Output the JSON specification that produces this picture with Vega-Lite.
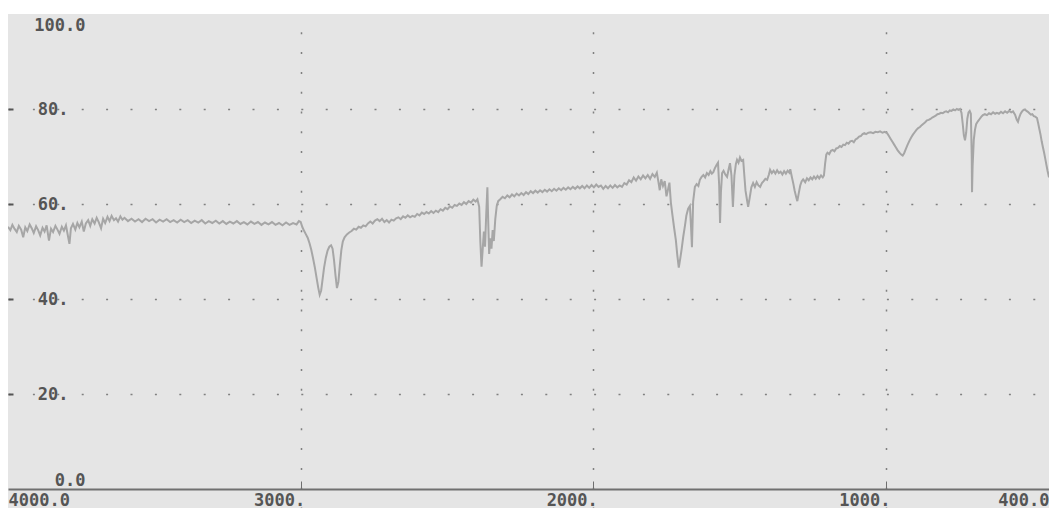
{
  "$schema": "https://vega.github.io/schema/vega-lite/v6.json",
  "width": 1041,
  "height": 494,
  "autosize": {"type": "none"},
  "padding": {"left": 8, "top": 14, "right": 0, "bottom": 0},
  "background": "white",
  "config": {
    "view": {"fill": "#e5e5e5", "stroke": null},
    "axis": {"labelFont": "DejaVu Sans Mono", "labelFontWeight": "bold", "labelFontSize": 17, "labelColor": "#555555", "title": null}
  },
  "data": {"values": [
    {"w":4000,"t":55.2},{"w":3992,"t":54.5},{"w":3985,"t":55.6},{"w":3978,"t":54.8},{"w":3970,"t":54.1},{"w":3963,"t":55.4},{"w":3955,"t":54.6},{"w":3948,"t":53.0},{"w":3941,"t":55.1},{"w":3934,"t":54.3},{"w":3926,"t":55.7},{"w":3919,"t":54.9},{"w":3912,"t":53.9},{"w":3904,"t":55.3},{"w":3897,"t":54.5},{"w":3890,"t":53.4},{"w":3882,"t":55.0},{"w":3875,"t":54.2},{"w":3868,"t":55.5},{"w":3860,"t":52.3},{"w":3853,"t":54.8},{"w":3846,"t":54.1},{"w":3838,"t":55.4},{"w":3831,"t":54.6},{"w":3824,"t":53.7},{"w":3816,"t":55.2},{"w":3809,"t":54.4},{"w":3802,"t":55.5},{"w":3795,"t":53.2},{"w":3790,"t":51.6},{"w":3785,"t":54.9},{"w":3778,"t":55.8},{"w":3770,"t":54.6},{"w":3763,"t":56.0},{"w":3756,"t":55.1},{"w":3748,"t":56.3},{"w":3741,"t":54.2},{"w":3734,"t":55.9},{"w":3726,"t":56.6},{"w":3719,"t":55.4},{"w":3712,"t":56.8},{"w":3704,"t":55.9},{"w":3697,"t":57.1},{"w":3690,"t":56.2},{"w":3682,"t":54.9},{"w":3675,"t":56.9},{"w":3668,"t":56.0},{"w":3660,"t":57.3},{"w":3653,"t":56.4},{"w":3646,"t":57.5},{"w":3638,"t":56.6},{"w":3631,"t":57.0},{"w":3624,"t":56.3},{"w":3616,"t":57.4},{"w":3609,"t":56.7},{"w":3602,"t":57.1},
    {"w":3590,"t":56.4},{"w":3578,"t":56.9},{"w":3566,"t":56.3},{"w":3554,"t":56.8},{"w":3542,"t":56.2},{"w":3530,"t":56.9},{"w":3518,"t":56.4},{"w":3506,"t":56.8},{"w":3494,"t":56.1},{"w":3482,"t":56.7},{"w":3470,"t":56.3},{"w":3458,"t":56.8},{"w":3446,"t":56.2},{"w":3434,"t":56.6},{"w":3422,"t":56.1},{"w":3410,"t":56.7},{"w":3398,"t":56.2},{"w":3386,"t":56.6},{"w":3374,"t":56.0},{"w":3362,"t":56.5},{"w":3350,"t":56.1},{"w":3338,"t":56.6},{"w":3326,"t":55.9},{"w":3314,"t":56.4},{"w":3302,"t":56.0},{"w":3290,"t":56.5},{"w":3278,"t":55.9},{"w":3266,"t":56.4},{"w":3254,"t":55.8},{"w":3242,"t":56.3},{"w":3230,"t":55.9},{"w":3218,"t":56.4},{"w":3206,"t":55.8},{"w":3194,"t":56.2},{"w":3182,"t":55.7},{"w":3170,"t":56.3},{"w":3158,"t":55.8},{"w":3146,"t":56.2},{"w":3134,"t":55.6},{"w":3122,"t":56.1},{"w":3110,"t":55.7},{"w":3098,"t":56.2},{"w":3086,"t":55.6},{"w":3074,"t":56.0},{"w":3062,"t":55.5},{"w":3050,"t":56.1},{"w":3038,"t":55.6},{"w":3026,"t":56.0},{"w":3014,"t":55.7},{"w":3006,"t":56.4},{"w":3000,"t":56.2},
    {"w":2994,"t":55.1},{"w":2988,"t":54.3},{"w":2982,"t":53.6},{"w":2976,"t":52.9},{"w":2970,"t":51.8},{"w":2964,"t":50.4},{"w":2958,"t":48.7},{"w":2952,"t":46.8},{"w":2946,"t":44.6},{"w":2940,"t":42.4},{"w":2935,"t":40.9},{"w":2930,"t":41.8},{"w":2925,"t":44.2},{"w":2920,"t":46.6},{"w":2914,"t":48.7},{"w":2908,"t":50.2},{"w":2902,"t":51.0},{"w":2896,"t":51.3},{"w":2891,"t":50.6},{"w":2886,"t":48.2},{"w":2881,"t":45.0},{"w":2876,"t":42.3},{"w":2871,"t":43.6},{"w":2866,"t":47.2},{"w":2861,"t":50.3},{"w":2856,"t":52.1},{"w":2850,"t":53.0},{"w":2842,"t":53.6},{"w":2834,"t":54.0},{"w":2826,"t":54.3},{"w":2818,"t":54.8},{"w":2810,"t":54.6},{"w":2802,"t":55.2},{"w":2794,"t":55.0},{"w":2786,"t":55.5},{"w":2778,"t":55.3},{"w":2770,"t":55.9},{"w":2762,"t":56.3},{"w":2754,"t":55.9},{"w":2746,"t":56.5},{"w":2738,"t":56.8},{"w":2730,"t":56.4},{"w":2722,"t":56.9},{"w":2714,"t":56.2},{"w":2706,"t":56.6},{"w":2698,"t":56.1},{"w":2690,"t":56.7},{"w":2682,"t":56.5},{"w":2674,"t":57.0},{"w":2666,"t":57.2},{"w":2658,"t":56.8},{"w":2650,"t":57.4},{"w":2642,"t":57.1},{"w":2634,"t":57.6},{"w":2626,"t":57.2},{"w":2618,"t":57.5},{"w":2610,"t":57.3},{"w":2602,"t":57.9},{"w":2594,"t":57.6},{"w":2586,"t":58.2},{"w":2578,"t":57.9},{"w":2570,"t":58.3},{"w":2562,"t":58.0},{"w":2554,"t":58.5},{"w":2546,"t":58.1},{"w":2538,"t":58.6},{"w":2530,"t":58.3},{"w":2522,"t":58.9},{"w":2514,"t":58.6},{"w":2506,"t":59.2},{"w":2498,"t":58.9},{"w":2490,"t":59.5},{"w":2482,"t":59.2},{"w":2474,"t":59.8},{"w":2466,"t":59.6},{"w":2458,"t":60.1},{"w":2450,"t":59.8},{"w":2442,"t":60.4},{"w":2434,"t":60.0},{"w":2426,"t":60.6},{"w":2418,"t":60.3},{"w":2410,"t":60.9},{"w":2402,"t":60.5},{"w":2396,"t":61.0},
    {"w":2390,"t":59.4},{"w":2386,"t":52.0},{"w":2382,"t":46.8},{"w":2378,"t":50.5},{"w":2374,"t":54.2},{"w":2370,"t":51.0},{"w":2366,"t":57.8},{"w":2362,"t":63.5},{"w":2359,"t":56.0},{"w":2356,"t":49.5},{"w":2352,"t":52.8},{"w":2348,"t":50.6},{"w":2344,"t":54.5},{"w":2340,"t":52.2},{"w":2335,"t":56.8},{"w":2330,"t":59.6},{"w":2325,"t":60.6},{"w":2318,"t":61.0},{"w":2310,"t":61.5},{"w":2302,"t":61.2},{"w":2294,"t":61.8},{"w":2286,"t":61.4},{"w":2278,"t":62.0},{"w":2270,"t":61.6},{"w":2262,"t":62.2},{"w":2254,"t":61.8},{"w":2246,"t":62.3},{"w":2238,"t":61.9},{"w":2230,"t":62.5},{"w":2222,"t":62.1},{"w":2214,"t":62.7},{"w":2206,"t":62.3},{"w":2198,"t":62.8},{"w":2190,"t":62.4},{"w":2182,"t":62.9},{"w":2174,"t":62.5},{"w":2166,"t":63.0},{"w":2158,"t":62.6},{"w":2150,"t":63.1},{"w":2142,"t":62.7},{"w":2134,"t":63.2},{"w":2126,"t":62.8},{"w":2118,"t":63.3},{"w":2110,"t":62.9},{"w":2102,"t":63.4},{"w":2094,"t":63.0},{"w":2086,"t":63.5},{"w":2078,"t":63.1},{"w":2070,"t":63.6},{"w":2062,"t":63.2},{"w":2054,"t":63.7},{"w":2046,"t":63.3},{"w":2038,"t":63.8},{"w":2030,"t":63.3},{"w":2022,"t":63.9},{"w":2014,"t":63.4},{"w":2006,"t":64.0},{"w":1998,"t":63.5},{"w":1990,"t":64.1},{"w":1982,"t":63.6},{"w":1974,"t":63.9},{"w":1966,"t":63.2},{"w":1958,"t":63.8},{"w":1950,"t":63.3},{"w":1942,"t":63.9},{"w":1934,"t":63.4},{"w":1926,"t":64.0},{"w":1918,"t":63.5},{"w":1910,"t":63.9},{"w":1902,"t":63.6},{"w":1894,"t":64.4},{"w":1886,"t":64.1},{"w":1878,"t":65.0},{"w":1870,"t":64.6},{"w":1862,"t":65.6},{"w":1854,"t":64.9},{"w":1846,"t":65.8},{"w":1838,"t":65.2},{"w":1830,"t":66.0},{"w":1822,"t":65.4},{"w":1814,"t":66.1},{"w":1806,"t":65.3},{"w":1798,"t":66.3},{"w":1790,"t":65.7},{"w":1783,"t":66.6},
    {"w":1778,"t":64.8},{"w":1773,"t":62.9},{"w":1768,"t":65.2},{"w":1762,"t":63.8},{"w":1756,"t":64.8},{"w":1750,"t":61.6},{"w":1745,"t":63.0},{"w":1740,"t":64.5},{"w":1735,"t":60.3},{"w":1730,"t":57.8},{"w":1724,"t":55.0},{"w":1718,"t":52.4},{"w":1713,"t":49.2},{"w":1708,"t":46.6},{"w":1703,"t":48.5},{"w":1698,"t":50.6},{"w":1693,"t":53.0},{"w":1687,"t":55.4},{"w":1682,"t":57.6},{"w":1676,"t":59.0},{"w":1670,"t":59.6},{"w":1666,"t":55.0},{"w":1663,"t":50.9},{"w":1659,"t":60.5},{"w":1653,"t":63.6},{"w":1647,"t":64.2},{"w":1641,"t":63.8},{"w":1636,"t":65.1},{"w":1630,"t":65.7},{"w":1624,"t":66.1},{"w":1618,"t":65.6},{"w":1612,"t":66.5},{"w":1606,"t":66.1},{"w":1600,"t":66.9},{"w":1595,"t":66.4},{"w":1590,"t":66.7},{"w":1585,"t":67.5},{"w":1579,"t":68.2},{"w":1574,"t":68.7},{"w":1570,"t":64.0},{"w":1567,"t":56.0},{"w":1564,"t":62.5},{"w":1560,"t":66.5},{"w":1555,"t":67.0},{"w":1549,"t":66.2},{"w":1543,"t":65.7},{"w":1538,"t":67.2},{"w":1533,"t":68.6},{"w":1528,"t":66.0},{"w":1523,"t":59.4},{"w":1518,"t":66.0},{"w":1513,"t":68.4},{"w":1509,"t":69.3},{"w":1504,"t":68.7},{"w":1499,"t":69.8},{"w":1494,"t":69.1},{"w":1488,"t":69.3},{"w":1484,"t":66.0},{"w":1480,"t":62.8},{"w":1475,"t":60.9},{"w":1471,"t":59.4},{"w":1466,"t":61.2},{"w":1460,"t":63.5},{"w":1454,"t":64.4},{"w":1448,"t":63.6},{"w":1442,"t":64.6},{"w":1436,"t":63.9},{"w":1430,"t":63.6},{"w":1424,"t":64.4},{"w":1418,"t":64.8},{"w":1412,"t":65.3},{"w":1406,"t":65.1},{"w":1400,"t":66.2},{"w":1396,"t":67.2},{"w":1390,"t":66.5},{"w":1384,"t":67.0},{"w":1378,"t":66.4},{"w":1372,"t":67.1},{"w":1366,"t":66.5},{"w":1360,"t":66.8},{"w":1354,"t":66.2},{"w":1348,"t":66.9},{"w":1342,"t":66.4},{"w":1336,"t":67.0},{"w":1330,"t":66.6},{"w":1327,"t":67.3},{"w":1322,"t":65.8},{"w":1317,"t":64.4},{"w":1312,"t":62.8},{"w":1307,"t":61.5},{"w":1303,"t":60.6},{"w":1298,"t":62.3},{"w":1293,"t":63.9},{"w":1288,"t":64.8},{"w":1283,"t":65.2},{"w":1276,"t":64.6},{"w":1270,"t":65.4},{"w":1264,"t":65.0},{"w":1258,"t":65.6},{"w":1252,"t":65.2},{"w":1246,"t":65.8},{"w":1240,"t":65.3},{"w":1234,"t":65.9},{"w":1228,"t":65.4},{"w":1222,"t":66.0},{"w":1216,"t":65.6},{"w":1212,"t":66.0},{"w":1208,"t":68.5},{"w":1204,"t":70.4},{"w":1200,"t":70.8},
    {"w":1194,"t":70.5},{"w":1188,"t":71.2},{"w":1182,"t":71.4},{"w":1176,"t":71.1},{"w":1170,"t":71.7},{"w":1164,"t":71.8},{"w":1158,"t":72.2},{"w":1152,"t":72.0},{"w":1146,"t":72.5},{"w":1140,"t":72.4},{"w":1134,"t":72.9},{"w":1128,"t":72.7},{"w":1122,"t":73.2},{"w":1116,"t":73.3},{"w":1110,"t":73.0},{"w":1104,"t":73.6},{"w":1098,"t":73.8},{"w":1092,"t":74.2},{"w":1086,"t":74.3},{"w":1080,"t":74.7},{"w":1074,"t":74.9},{"w":1068,"t":74.7},{"w":1060,"t":75.0},{"w":1052,"t":75.1},{"w":1044,"t":74.9},{"w":1036,"t":75.2},{"w":1028,"t":75.1},{"w":1020,"t":75.3},{"w":1012,"t":75.0},{"w":1004,"t":75.2},{"w":996,"t":74.9},{"w":990,"t":74.3},{"w":984,"t":73.7},{"w":978,"t":73.1},{"w":972,"t":72.5},{"w":966,"t":71.9},{"w":960,"t":71.3},{"w":954,"t":70.8},{"w":948,"t":70.4},{"w":943,"t":70.2},{"w":938,"t":70.7},{"w":932,"t":71.6},{"w":926,"t":72.5},{"w":920,"t":73.3},{"w":914,"t":74.0},{"w":908,"t":74.6},{"w":902,"t":75.1},{"w":896,"t":75.6},{"w":890,"t":76.0},{"w":884,"t":76.2},{"w":878,"t":76.6},{"w":872,"t":76.9},{"w":866,"t":77.2},{"w":860,"t":77.6},{"w":854,"t":77.7},{"w":848,"t":77.9},{"w":842,"t":78.2},{"w":836,"t":78.4},{"w":830,"t":78.6},{"w":824,"t":78.9},{"w":818,"t":79.0},{"w":812,"t":79.2},{"w":806,"t":79.1},{"w":800,"t":79.4},{"w":794,"t":79.5},{"w":788,"t":79.3},{"w":782,"t":79.7},{"w":776,"t":79.6},{"w":770,"t":79.9},{"w":764,"t":79.7},{"w":758,"t":80.0},{"w":752,"t":79.8},{"w":747,"t":80.0},{"w":742,"t":79.2},{"w":738,"t":77.0},{"w":734,"t":74.5},{"w":730,"t":73.4},{"w":726,"t":75.0},{"w":722,"t":78.0},{"w":718,"t":79.3},{"w":714,"t":79.6},{"w":710,"t":79.0},{"w":707,"t":70.0},{"w":706,"t":62.5},{"w":704,"t":68.0},{"w":700,"t":73.5},{"w":696,"t":75.6},{"w":692,"t":76.8},{"w":686,"t":77.4},{"w":680,"t":77.9},{"w":674,"t":78.4},{"w":669,"t":78.7},{"w":662,"t":78.9},{"w":655,"t":78.7},{"w":648,"t":79.1},{"w":641,"t":78.9},{"w":634,"t":79.3},{"w":627,"t":79.0},{"w":621,"t":79.2},{"w":614,"t":79.0},{"w":607,"t":79.4},{"w":600,"t":79.1},{"w":593,"t":79.5},{"w":586,"t":79.2},{"w":579,"t":79.6},{"w":572,"t":79.3},{"w":566,"t":79.5},{"w":559,"t":78.8},{"w":553,"t":77.7},{"w":549,"t":77.3},{"w":545,"t":78.2},{"w":540,"t":79.0},{"w":535,"t":79.5},{"w":530,"t":79.8},{"w":525,"t":79.9},{"w":520,"t":79.6},{"w":515,"t":79.4},{"w":510,"t":79.1},{"w":505,"t":78.8},{"w":500,"t":78.9},{"w":495,"t":78.5},{"w":490,"t":78.4},{"w":484,"t":78.1},{"w":480,"t":77.0},{"w":476,"t":75.8},{"w":472,"t":74.6},{"w":468,"t":73.2},{"w":464,"t":72.0},{"w":460,"t":70.9},{"w":456,"t":69.6},{"w":452,"t":68.3},{"w":448,"t":67.0},{"w":443,"t":65.6}
  ]},
  "mark": {"type": "line", "color": "#a6a6a6", "strokeWidth": 2, "clip": true},
  "encoding": {
    "x": {
      "field": "w", "type": "quantitative",
      "scale": {"domain": [4000, 443], "nice": false, "zero": false},
      "axis": {
        "orient": "bottom",
        "offset": -19,
        "values": [4000, 3000, 2000, 1000, 443],
        "labelExpr": "datum.value == 4000 ? '4000.0' : datum.value == 443 ? '400.0' : datum.value + '.'",
        "labelAlign": {"expr": "datum.value == 4000 ? 'left' : 'right'"},
        "labelOffset": {"expr": "datum.value == 4000 || datum.value == 443 ? 0 : 4"},
        "labelBaseline": "top",
        "labelPadding": 11,
        "labelFlush": false,
        "labelOverlap": false,
        "labelBound": false,
        "domainColor": "#707070",
        "domainWidth": 2,
        "tickSize": -8,
        "tickColor": "#707070",
        "tickWidth": 1,
        "tickOpacity": {"expr": "datum.value == 4000 || datum.value == 443 ? 0 : 1"},
        "grid": true,
        "gridColor": "#808080",
        "gridWidth": 1.5,
        "gridDash": [2, 17.8],
        "gridDashOffset": 2,
        "gridOpacity": {"expr": "datum.value == 4000 || datum.value == 443 ? 0 : 1"}
      }
    },
    "y": {
      "field": "t", "type": "quantitative",
      "scale": {"domain": [-4, 100], "nice": false, "zero": false},
      "axis": {
        "orient": "left",
        "values": [0, 20, 40, 60, 80, 100],
        "labelExpr": "datum.value == 100 ? '100.0' : datum.value == 0 ? '0.0' : datum.value + '.'",
        "labelAlign": "right",
        "labelBaseline": {"expr": "datum.value == 100 ? 'top' : datum.value == 0 ? 'bottom' : 'middle'"},
        "labelOffset": {"expr": "datum.value == 100 ? 3 : 0"},
        "labelPadding": {"expr": "datum.value == 100 || datum.value == 0 ? -72 : -55"},
        "labelFlush": false,
        "labelOverlap": false,
        "labelBound": false,
        "domain": false,
        "tickSize": -5,
        "tickColor": "#555555",
        "tickWidth": 2,
        "tickOpacity": {"expr": "datum.value == 100 || datum.value == 0 ? 0 : 1"},
        "grid": true,
        "gridColor": "#808080",
        "gridWidth": 1.5,
        "gridDash": [2, 22.4],
        "gridOpacity": {"expr": "datum.value == 100 || datum.value == 0 ? 0 : 1"}
      }
    }
  }
}
